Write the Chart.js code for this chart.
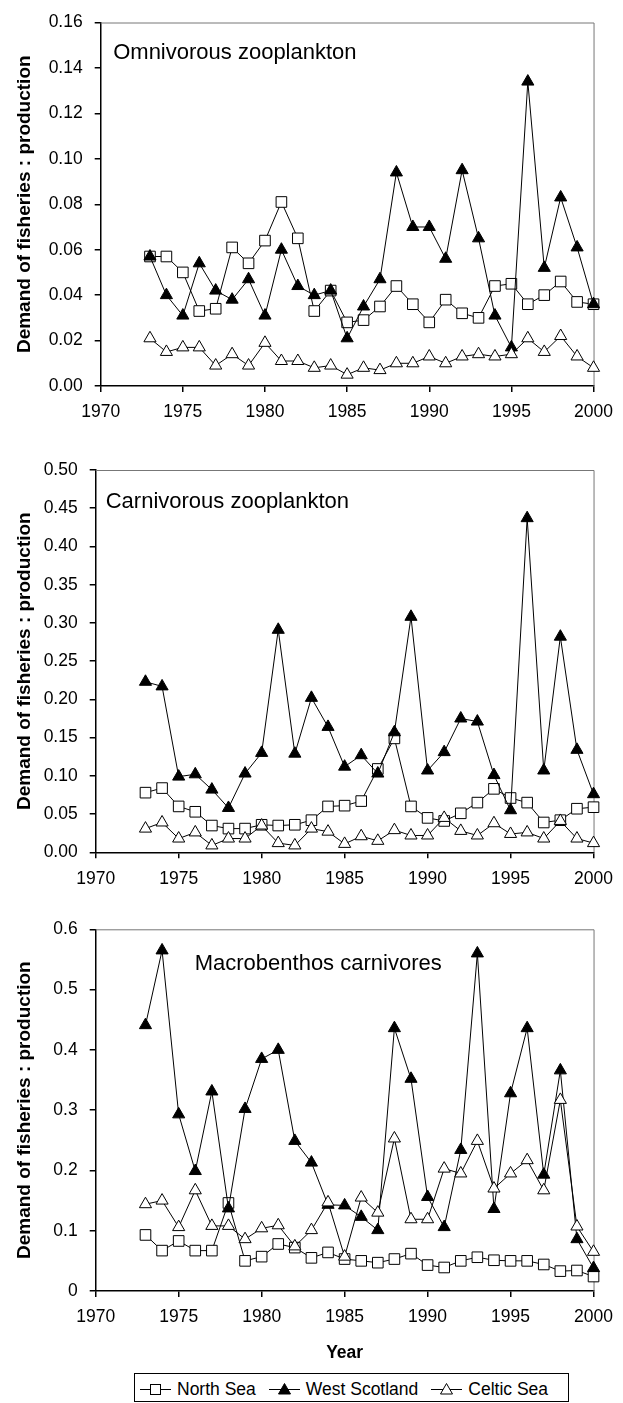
<!DOCTYPE html>
<html>
<head>
<meta charset="utf-8">
<title>Demand of fisheries : production</title>
<script src="https://cdn.jsdelivr.net/npm/chart.js@4.4.1/dist/chart.umd.min.js"></script>
<style>
  body { margin: 0; background: #fff; width: 623px; height: 1403px; position: relative; overflow: hidden;
         font-family: "Liberation Sans", Arial, sans-serif; }
  .panel { position: absolute; left: 0; width: 623px; }
  #legend { position: absolute; left: 134px; top: 1373px; width: 435px; height: 29px; box-sizing: border-box;
            border: 1px solid #000; display: flex; align-items: center; padding: 3px 0 0 5px; font-size: 17.5px; color: #000; }
  #legend .item { display: flex; align-items: center; margin-right: 13px; }
  #legend svg { margin-right: 6px; }
</style>
</head>
<body>
<div class="panel" style="top:0;height:440px"><canvas id="omni"></canvas></div>
<div class="panel" style="top:440px;height:460px"><canvas id="carn"></canvas></div>
<div class="panel" style="top:900px;height:470px"><canvas id="macro"></canvas></div>
<div id="legend"></div>

<script>
// years and tick labels
const years = [1973, 1974, 1975, 1976, 1977, 1978, 1979, 1980, 1981, 1982, 1983, 1984, 1985, 1986,
               1987, 1988, 1989, 1990, 1991, 1992, 1993, 1994, 1995, 1996, 1997, 1998, 1999, 2000];
const xTickLabels = ['1970', '1975', '1980', '1985', '1990', '1995', '2000'];
const seriesNames = ['North Sea', 'West Scotland', 'Celtic Sea'];

// Omnivorous zooplankton
const omniTicks = ['0.00', '0.02', '0.04', '0.06', '0.08', '0.10', '0.12', '0.14', '0.16'];
const omniNorthSea = [0.057, 0.057, 0.050, 0.033, 0.034, 0.061, 0.054, 0.064, 0.081, 0.065, 0.033, 0.042, 0.028, 0.029,
                      0.035, 0.044, 0.036, 0.028, 0.038, 0.032, 0.030, 0.044, 0.045, 0.036, 0.040, 0.046, 0.037, 0.036];
const omniWestScotland = [0.057, 0.040, 0.031, 0.054, 0.042, 0.038, 0.047, 0.031, 0.060, 0.044, 0.040, 0.042, 0.021, 0.035,
                          0.047, 0.094, 0.070, 0.070, 0.056, 0.095, 0.065, 0.031, 0.017, 0.134, 0.052, 0.083, 0.061, 0.036];
const omniCelticSea = [0.021, 0.015, 0.017, 0.017, 0.009, 0.014, 0.009, 0.019, 0.011, 0.011, 0.008, 0.009, 0.005, 0.008,
                       0.007, 0.010, 0.010, 0.013, 0.010, 0.013, 0.014, 0.013, 0.014, 0.021, 0.015, 0.022, 0.013, 0.008];

// Carnivorous zooplankton
const carnTicks = ['0.00', '0.05', '0.10', '0.15', '0.20', '0.25', '0.30', '0.35', '0.40', '0.45', '0.50'];
const carnNorthSea = [0.078, 0.084, 0.060, 0.053, 0.035, 0.031, 0.031, 0.036, 0.035, 0.036, 0.042, 0.060, 0.061, 0.067,
                      0.109, 0.149, 0.060, 0.045, 0.041, 0.051, 0.065, 0.083, 0.071, 0.065, 0.039, 0.042, 0.057, 0.059];
const carnWestScotland = [0.223, 0.217, 0.099, 0.102, 0.082, 0.058, 0.103, 0.130, 0.291, 0.129, 0.202, 0.164, 0.112, 0.127,
                          0.103, 0.157, 0.308, 0.107, 0.131, 0.175, 0.171, 0.101, 0.055, 0.437, 0.107, 0.282, 0.134, 0.076];
const carnCelticSea = [0.031, 0.039, 0.018, 0.026, 0.009, 0.018, 0.018, 0.035, 0.012, 0.009, 0.031, 0.027, 0.011, 0.021,
                       0.015, 0.029, 0.022, 0.022, 0.045, 0.028, 0.022, 0.038, 0.024, 0.026, 0.018, 0.041, 0.018, 0.012];

// Macrobenthos carnivores
const macroTicks = ['0', '0.1', '0.2', '0.3', '0.4', '0.5', '0.6'];
const macroNorthSea = [0.093, 0.067, 0.083, 0.067, 0.067, 0.146, 0.050, 0.057, 0.078, 0.072, 0.055, 0.064, 0.053, 0.050,
                       0.047, 0.053, 0.062, 0.043, 0.039, 0.050, 0.056, 0.051, 0.050, 0.050, 0.044, 0.033, 0.034, 0.024];
const macroWestScotland = [0.441, 0.565, 0.293, 0.199, 0.331, 0.137, 0.302, 0.385, 0.400, 0.249, 0.213, 0.143, 0.142, 0.123,
                           0.101, 0.436, 0.352, 0.156, 0.106, 0.234, 0.560, 0.136, 0.328, 0.436, 0.193, 0.366, 0.086, 0.038];
const macroCelticSea = [0.144, 0.150, 0.106, 0.167, 0.108, 0.108, 0.086, 0.104, 0.109, 0.074, 0.101, 0.147, 0.057, 0.155,
                        0.130, 0.253, 0.119, 0.119, 0.203, 0.195, 0.249, 0.170, 0.195, 0.217, 0.167, 0.317, 0.107, 0.065];

const FONT = '"Liberation Sans", Arial, sans-serif';
Chart.defaults.font.family = FONT;
Chart.defaults.color = '#000';

// marker look per series (order: North Sea drawn first, Celtic Sea last)
const styles = [
  { pointStyle: 'rect', pointRadius: 7.5, pointBackgroundColor: '#fff', order: 3 },
  { pointStyle: 'triangle', pointRadius: 7, pointBackgroundColor: '#000', order: 2 },
  { pointStyle: 'triangle', pointRadius: 7, pointBackgroundColor: '#fff', order: 1 }
];

// top/right frame + panel label inside the plot
const panelDecor = {
  id: 'panelDecor',
  beforeDatasetsDraw(chart, args, opts) {
    const { ctx, chartArea: a } = chart;
    ctx.save();
    ctx.strokeStyle = '#777';
    ctx.lineWidth = 1;
    ctx.beginPath();
    ctx.moveTo(a.left, a.top + 0.5);
    ctx.lineTo(a.right + 0.5, a.top + 0.5);
    ctx.lineTo(a.right + 0.5, a.bottom);
    ctx.stroke();
    ctx.fillStyle = '#000';
    ctx.font = '22px ' + FONT;
    ctx.textBaseline = 'alphabetic';
    ctx.fillText(opts.text, a.left + opts.dx, a.top + opts.dy);
    ctx.restore();
  }
};

function makePanel(id, p) {
  const datasets = p.series.map((vals, i) => ({
    label: seriesNames[i],
    data: vals.map((v, k) => ({ x: years[k], y: v })),
    borderColor: '#000',
    borderWidth: 1,
    pointBorderColor: '#000',
    pointBorderWidth: 1,
    tension: 0,
    clip: false,
    ...styles[i]
  }));

  new Chart(document.getElementById(id), {
    type: 'line',
    data: { datasets },
    plugins: [panelDecor],
    options: {
      responsive: true,
      maintainAspectRatio: false,
      animation: false,
      events: [],
      layout: { padding: { top: p.top, right: 21.3, left: 0, bottom: 0 } },
      plugins: {
        legend: { display: false },
        tooltip: { enabled: false },
        panelDecor: { text: p.title, dx: p.dx, dy: p.dy }
      },
      scales: {
        x: {
          type: 'linear', min: 1970, max: 2000,
          afterFit: s => { s.height = p.xHeight; },
          border: { color: '#000', width: 1.5 },
          grid: { drawOnChartArea: false, tickLength: 6, color: '#000', lineWidth: 1.5 },
          ticks: { stepSize: 5, padding: 10, font: { size: 17.5 }, maxRotation: 0,
                   callback: (v, i) => xTickLabels[i] },
          title: { display: !!p.xTitle, text: p.xTitle || '', font: { size: 17.5, weight: 'bold' },
                   padding: { top: 0, bottom: 6 } }
        },
        y: {
          min: 0, max: p.max,
          afterFit: s => { s.width = p.yWidth; },
          border: { color: '#000', width: 1.5 },
          grid: { drawOnChartArea: false, tickLength: 6, color: '#000', lineWidth: 1.5 },
          ticks: { stepSize: p.step, padding: 12, font: { size: 17.5 }, autoSkip: false,
                   callback: (v, i) => p.ticks[i] },
          title: { display: true, text: 'Demand of fisheries : production',
                   font: { size: 19, weight: 'bold' }, padding: { top: 13 } }
        }
      }
    }
  });
}

makePanel('omni', {
  title: 'Omnivorous zooplankton', dx: 12.5, dy: 36,
  series: [omniNorthSea, omniWestScotland, omniCelticSea],
  ticks: omniTicks, max: 0.16, step: 0.02,
  top: 21.7, yWidth: 100.7, xHeight: 54
});
makePanel('carn', {
  title: 'Carnivorous zooplankton', dx: 10, dy: 37.7,
  series: [carnNorthSea, carnWestScotland, carnCelticSea],
  ticks: carnTicks, max: 0.5, step: 0.05,
  top: 30, yWidth: 95.7, xHeight: 47.7
});
makePanel('macro', {
  title: 'Macrobenthos carnivores', dx: 99, dy: 40.7,
  series: [macroNorthSea, macroWestScotland, macroCelticSea],
  ticks: macroTicks, max: 0.6, step: 0.1,
  top: 29.3, yWidth: 95.7, xHeight: 79, xTitle: 'Year'
});

// legend box below the last panel
const legendSymbols = [
  '<rect x="10.5" y="2.5" width="10" height="10" fill="#fff" stroke="#000"/>',
  '<polygon points="15.5,1.5 21.5,12 9.5,12" fill="#000" stroke="#000"/>',
  '<polygon points="15.5,1.5 21.5,12 9.5,12" fill="#fff" stroke="#000"/>'
];
document.getElementById('legend').innerHTML = seriesNames.map((name, i) =>
  '<span class="item"><svg width="31" height="14">' +
  '<line x1="0" y1="7.5" x2="31" y2="7.5" stroke="#000"/>' + legendSymbols[i] +
  '</svg>' + name + '</span>').join('');
</script>
</body>
</html>
